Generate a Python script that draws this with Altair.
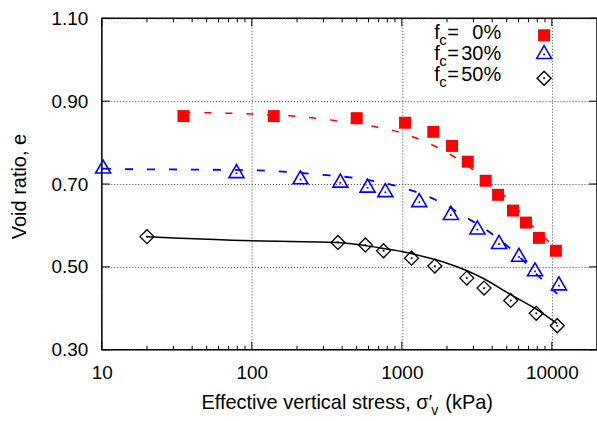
import altair as alt
import pandas as pd

# ---------------- measured data ----------------
stress_fc0 = [35, 140, 500, 1050, 1620, 2160, 2750, 3620, 4380, 5510, 6720, 8200, 10640]
void_fc0 = [0.864, 0.864, 0.859, 0.848, 0.826, 0.792, 0.754, 0.708, 0.674, 0.636, 0.607, 0.570, 0.539]

stress_fc30 = [10.2, 79, 211, 389, 591, 776, 1306, 2123, 3190, 4446, 6040, 7723, 11150]
void_fc30 = [0.737, 0.726, 0.711, 0.703, 0.691, 0.680, 0.656, 0.625, 0.590, 0.555, 0.524, 0.489, 0.455]

stress_fc50 = [20, 375, 571, 755, 1160, 1660, 2711, 3533, 5321, 7874, 10860]
void_fc50 = [0.573, 0.559, 0.553, 0.539, 0.521, 0.502, 0.473, 0.449, 0.419, 0.388, 0.358]

# ---------------- fitted compression curves ----------------
fit_stress_fc0 = [35, 100, 187, 364, 689, 961, 1306, 1774, 2410, 3110, 4017, 5188, 6700, 10070, 10640]
fit_void_fc0 = [0.873, 0.869, 0.864, 0.853, 0.837, 0.825, 0.808, 0.786, 0.758, 0.730, 0.696, 0.661, 0.615, 0.553, 0.545]

fit_stress_fc30 = [10.2, 14.2, 55, 107, 145, 282, 548, 1038, 1866, 2535, 4227, 5740, 8630, 10870]
fit_void_fc30 = [0.737, 0.736, 0.7345, 0.733, 0.731, 0.723, 0.712, 0.690, 0.6535, 0.625, 0.573, 0.533, 0.469, 0.435]

fit_stress_fc50 = [20, 100, 375, 708, 1000, 1500, 2000, 2673, 3500, 5321, 7874, 10860]
fit_void_fc50 = [0.573, 0.563, 0.559, 0.546, 0.537, 0.522, 0.509, 0.492, 0.472, 0.433, 0.398, 0.363]

# ---------------- axes ----------------
x_major = [10, 100, 1000, 10000]
x_minor = [m * 10 ** d for d in (1, 2, 3) for m in range(2, 10)]
y_major = [0.3, 0.5, 0.7, 0.9, 1.1]

legend_values = ["0%", "30%", "50%"]

W, H = 496, 332
FONT = "Liberation Sans"
RED, BLUE, BLACK = "#ff0000", "#0000ff", "#000000"

xs = alt.Scale(type="log", domain=[10, 20000], nice=False)
ys = alt.Scale(domain=[0.3, 1.1], nice=False, zero=False)

x_axis = alt.Axis(values=x_major, format="d", title=None, grid=True, ticks=False,
                  domain=False, labelPadding=14, labelFontSize=19, labelFont=FONT,
                  labelColor="black", labelFlush=False)
y_axis = alt.Axis(values=y_major, format=".2f", title="Void ratio, e", grid=True,
                  ticks=False, domain=False, labelPadding=14, labelFontSize=19,
                  labelFont=FONT, labelColor="black", labelFlush=False,
                  titleFont=FONT, titleFontSize=20, titleFontWeight="normal",
                  titleColor="black", titleX=-82, titleY=168, titleAngle=270,
                  titleBaseline="middle", titleAlign="center")


def X(field):
    return alt.X(field, type="quantitative", scale=xs, axis=x_axis)


def Y(field):
    return alt.Y(field, type="quantitative", scale=ys, axis=y_axis)


def df(xv, yv):
    return pd.DataFrame({"s": xv, "e": yv})


# fitted curves
fit0 = alt.Chart(df(fit_stress_fc0, fit_void_fc0)).mark_line(
    color=RED, strokeWidth=1.5, strokeDash=[7, 14], interpolate="monotone"
).encode(x=X("s"), y=Y("e"))
fit30 = alt.Chart(df(fit_stress_fc30, fit_void_fc30)).mark_line(
    color=BLUE, strokeWidth=1.8, strokeDash=[8, 14], interpolate="monotone"
).encode(x=X("s"), y=Y("e"))
fit50 = alt.Chart(df(fit_stress_fc50, fit_void_fc50)).mark_line(
    color=BLACK, strokeWidth=1.5, interpolate="monotone"
).encode(x=X("s"), y=Y("e"))

# triangle outline centred on its centroid
TRI = "M0,-1.155L1,0.577L-1,0.577Z"

pts0 = alt.Chart(df(stress_fc0, void_fc0)).mark_point(
    shape="square", filled=True, color=RED, size=144, opacity=1
).encode(x=X("s"), y=Y("e"))
pts30 = alt.Chart(df(stress_fc30, void_fc30)).mark_point(
    shape=TRI, filled=False, color=BLUE, size=225, strokeWidth=1.6, opacity=1
).encode(x=X("s"), y=Y("e"))
dot30 = alt.Chart(df(stress_fc30, void_fc30)).mark_point(
    shape="square", filled=True, color=BLUE, size=3, opacity=1
).encode(x=X("s"), y=Y("e"))
pts50 = alt.Chart(df(stress_fc50, void_fc50)).mark_point(
    shape="diamond", filled=False, color=BLACK, size=196, strokeWidth=1.3, opacity=1
).encode(x=X("s"), y=Y("e"))
dot50 = alt.Chart(df(stress_fc50, void_fc50)).mark_point(
    shape="square", filled=True, color=BLACK, size=3, opacity=1
).encode(x=X("s"), y=Y("e"))

# inward tick marks on all four sides
xmaj = pd.DataFrame({"t": x_major})
xmin = pd.DataFrame({"t": x_minor})
ymaj = pd.DataFrame({"t": y_major})


def xtick(data, y0, y1):
    return alt.Chart(data).mark_rule(color="black", strokeWidth=1).encode(
        x=alt.X("t:Q", scale=xs, axis=x_axis), y=alt.value(y0), y2=alt.value(y1))


def ytick(data, x0, x1):
    return alt.Chart(data).mark_rule(color="black", strokeWidth=1).encode(
        y=alt.Y("t:Q", scale=ys, axis=y_axis), x=alt.value(x0), x2=alt.value(x1))


ticks = [
    xtick(xmaj, H, H - 8), xtick(xmin, H, H - 4),
    xtick(xmaj, 0, 8), xtick(xmin, 0, 4),
    ytick(ymaj, 0, 8), ytick(ymaj, W, W - 8),
]

one = pd.DataFrame({"k": [0]})


def label(text, x, y, size=20, align="left"):
    return alt.Chart(one).mark_text(
        text=text, font=FONT, fontSize=size, align=align, baseline="alphabetic",
        color="black"
    ).encode(x=alt.value(x), y=alt.value(y))


# x-axis title with primed, subscripted sigma
SIG = 328
xtitle = [
    label("Effective vertical stress, σ′", SIG + 3, 391, align="right"),
    label("v", SIG + 2, 397, size=14),
    label("(kPa)", SIG + 16, 391),
]

# legend
leg = []
leg_syms = [("square", RED, True, 144, 17), (TRI, BLUE, False, 225, 36),
            ("diamond", BLACK, False, 196, 60)]
for i, val in enumerate(legend_values):
    base = 21 + 21 * i
    leg.append(label("f", 333, base))
    leg.append(label("c", 338, base + 6, size=15))
    leg.append(label("=", 346, base))
    leg.append(label(val, 400, base, align="right"))
    shp, col, filled, sz, sy = leg_syms[i]
    leg.append(alt.Chart(one).mark_point(
        shape=shp, filled=filled, color=col, opacity=1, size=sz, strokeWidth=1.5
    ).encode(x=alt.value(443), y=alt.value(sy)))
    if not filled:
        leg.append(alt.Chart(one).mark_point(
            shape="square", filled=True, color=col, opacity=1, size=3
        ).encode(x=alt.value(443), y=alt.value(sy)))

chart = alt.layer(
    *ticks, fit0, fit30, fit50, pts0, pts30, dot30, pts50, dot50, *xtitle, *leg
).properties(
    width=W, height=H,
    autosize=alt.AutoSizeParams(type="none"),
    padding={"left": 102, "top": 18, "right": 0, "bottom": 71},
).configure_view(
    stroke="black", strokeWidth=1.5
).configure_axis(
    gridColor="#444444", gridDash=[1, 2], gridWidth=1, gridOpacity=1
)

chart.save("out.html", embed_options={"renderer": "svg", "actions": False})
